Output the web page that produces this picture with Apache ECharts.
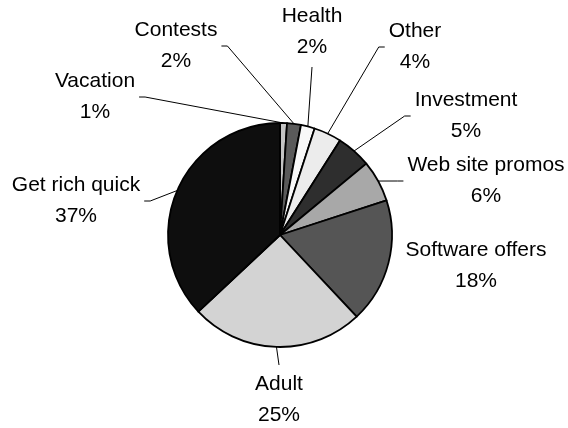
<!DOCTYPE html>
<html>
<head>
<meta charset="utf-8">
<script src="https://cdn.jsdelivr.net/npm/echarts@6/dist/echarts.min.js"></script>
<style>
  html, body { margin: 0; padding: 0; background: #fff; }
  #chart { width: 568px; height: 428px; }
</style>
</head>
<body>
<div id="chart"></div>
<script>
// Spam categories, clockwise from 12 o'clock
const categories = ['Vacation', 'Contests', 'Health', 'Other', 'Investment',
  'Web site promos', 'Software offers', 'Adult', 'Get rich quick'];
const shares = [1, 2, 2, 4, 5, 6, 18, 25, 37];
const sliceColors = ['#c4c4c4', '#5a5a5a', '#f8f8f8', '#ececec', '#2e2e2e',
  '#a8a8a8', '#555555', '#d3d3d3', '#0e0e0e'];

// Label block centres (px), one per category
const labelSpots = [
  [95, 97], [176, 46], [312, 32], [415, 47], [466, 116],
  [486, 181], [476, 266], [279, 400], [76, 201]
];

const GAP = 4;      // space between text block and leader line
const TICK = 6;     // short horizontal stub next to side-attached labels

// Leader line from the slice edge to the nearest side of the moved label
function leaderPoints(anchor, cx, cy, w, h) {
  if (!anchor) return null;
  const ax = anchor[0], ay = anchor[1];
  if (Math.abs(ax - cx) < w / 2) {
    const py = ay > cy ? cy + h / 2 + GAP : cy - h / 2 - GAP;
    return [[ax, ay], [cx, py]];
  }
  const s = ax > cx ? 1 : -1;
  const px = cx + s * (w / 2 + GAP);
  if (Math.hypot(ax - px, ay - cy) < 16) return [[ax, ay], [ax, ay]];
  return [[ax, ay], [px + s * TICK, cy], [px, cy]];
}

const chart = echarts.init(document.getElementById('chart'), null, { renderer: 'canvas' });

chart.setOption({
  animation: false,
  backgroundColor: '#ffffff',
  series: [{
    type: 'pie',
    center: [280, 235],
    radius: [0, 112],
    startAngle: 90,
    clockwise: true,
    avoidLabelOverlap: false,
    data: categories.map((name, i) => ({
      name: name,
      value: shares[i],
      itemStyle: { color: sliceColors[i] }
    })),
    itemStyle: { borderColor: '#000', borderWidth: 1.8 },
    label: {
      show: true,
      position: 'outside',
      formatter: '{b}\n{c}%',
      fontFamily: 'Liberation Sans, Arial, sans-serif',
      fontSize: 21,
      lineHeight: 31,
      color: '#000',
      align: 'center'
    },
    labelLine: {
      show: true,
      length: 15,
      length2: 8,
      lineStyle: { color: '#000', width: 1 }
    },
    labelLayout: function (params) {
      const p = labelSpots[params.dataIndex];
      const r = params.labelRect;
      const anchor = params.labelLinePoints ? params.labelLinePoints[0] : null;
      const out = { x: p[0], y: p[1], align: 'center', verticalAlign: 'middle' };
      const pts = leaderPoints(anchor, p[0], p[1], r.width, r.height);
      if (pts) out.labelLinePoints = pts;
      return out;
    },
    emphasis: { disabled: true }
  }]
});
</script>
</body>
</html>
